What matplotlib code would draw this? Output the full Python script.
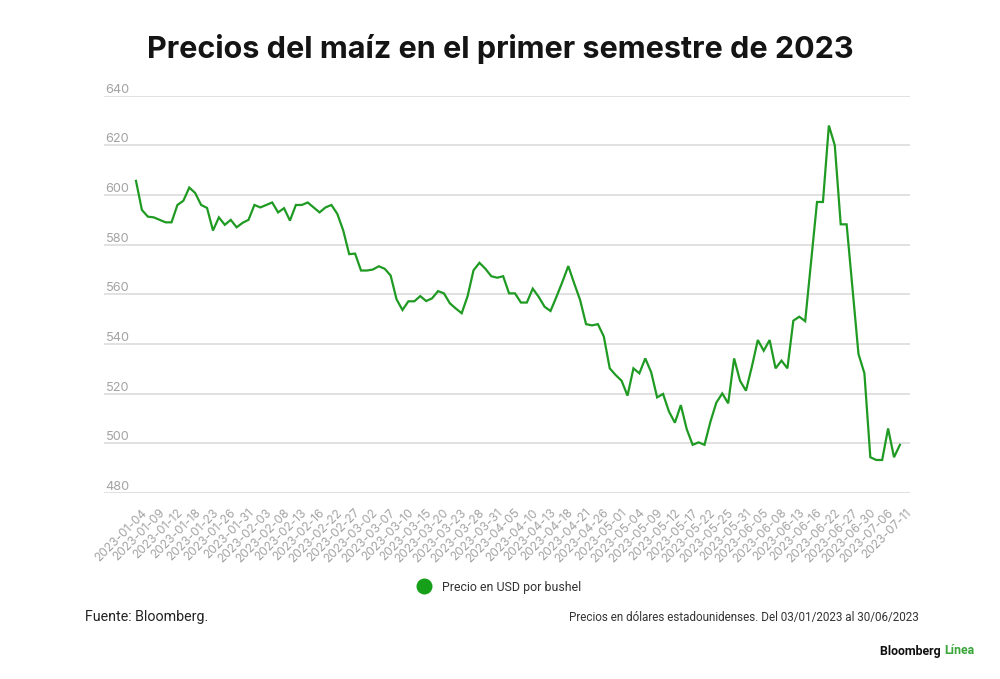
import numpy as np
import pandas as pd
import matplotlib
matplotlib.use("Agg")
import matplotlib.pyplot as plt
import matplotlib.transforms as mtransforms
from matplotlib.lines import Line2D

plt.rcParams['font.family'] = ['Inter', 'DejaVu Sans']

# ---- data ----
holidays = ['2023-01-16', '2023-02-20', '2023-05-29', '2023-06-19', '2023-07-04']
dates = pd.bdate_range('2023-01-04', '2023-07-11', freq='C', holidays=holidays)
date_labels = [d.strftime('%Y-%m-%d') for d in dates]

prices = [
    605.7, 594.0, 591.3, 591.0, 590.0, 589.0, 589.0, 596.0, 597.7, 603.0,
    600.8, 596.0, 594.8, 585.7, 591.0, 588.0, 590.0, 587.0, 588.8, 590.0,
    596.0, 595.0, 596.0, 597.0, 593.0, 594.7, 589.7, 596.0, 596.0, 597.0,
    595.0, 593.0, 595.0, 596.0, 592.4, 585.7, 576.2,
    576.4, 569.6, 569.6, 570.0, 571.3, 570.3, 567.6, 558.0, 553.7, 557.2,
    557.2, 559.3, 557.3, 558.4, 561.3, 560.4, 556.4, 554.3, 552.4, 559.3,
    569.7, 572.7, 570.3, 567.3, 566.7, 567.3, 560.4, 560.4, 556.7, 556.7,
    562.3, 559.0, 555.0, 553.3, 559.0, 565.0, 571.4, 564.4, 557.7, 548.0,
    547.5, 548.0, 543.0, 530.2, 527.5, 525.2, 519.2, 530.2, 528.2, 534.2,
    528.6, 518.5, 519.9, 512.8, 508.3, 515.4, 505.7,
    499.4, 500.4, 499.4, 508.7, 516.4, 520.1, 516.1, 534.2, 525.2, 521.2,
    530.9, 541.6, 537.3, 541.6, 530.2, 533.3, 530.2, 549.4, 551.0, 549.2,
    573.2, 597.2, 597.2, 628.0, 620.0, 588.2, 588.2, 562.0, 536.0, 528.2,
    494.4, 493.3, 493.3, 506.0, 494.4, 499.4,
]
y_ticks = [480, 500, 520, 540, 560, 580, 600, 620, 640]
series_name = 'Precio en USD por bushel'
title = 'Precios del maíz en el primer semestre de 2023'
source = 'Fuente: Bloomberg.'
note = 'Precios en dólares estadounidenses. Del 03/01/2023 al 30/06/2023'

# ---- figure ----
W, H = 1000, 679
fig = plt.figure(figsize=(W / 100, H / 100), dpi=100)
fig.patch.set_facecolor('white')

def fy(py):
    return 1 - py / H

ax = fig.add_axes([104 / W, fy(493), (910 - 104) / W, (493 - 95.7) / H])
x = np.arange(len(prices))
green = '#1f9a22'
ax.plot(x, prices, color=green, lw=1.6, solid_joinstyle='miter', zorder=3)

ax.set_ylim(480, 640)
ax.set_xlim(-5.4, len(prices) - 1 + 1.7)
ax.set_yticks(y_ticks)
ax.set_yticklabels([])
ax.tick_params(axis='y', length=0)
ax.grid(axis='y', color='#dcdcdc', lw=1.2)
ax.grid(axis='x', visible=False)
for s in ax.spines.values():
    s.set_visible(False)

trans = mtransforms.blended_transform_factory(ax.transAxes, ax.transData)
for v in y_ticks:
    ax.text(0.002, v, f'{v}', transform=trans, ha='left', va='bottom',
            fontsize=9.2, color='#a3a3a3')

ax.set_xticks(x[::3])
ax.set_xticklabels(date_labels[::3], rotation=45, ha='right', va='top',
                   rotation_mode='anchor', fontsize=8.6, color='#a3a3a3')
ax.tick_params(axis='x', length=0, pad=10)
offset = mtransforms.ScaledTranslation(5 / 100, 0, fig.dpi_scale_trans)
for lbl in ax.get_xticklabels():
    lbl.set_transform(lbl.get_transform() + offset)

# title
fig.text(0.5, fy(49), title, ha='center', va='center', fontsize=22,
         fontweight='bold', color='#141414')

# legend
handle = Line2D([], [], marker='o', linestyle='none', markersize=10.5,
                markerfacecolor='#16a01a', markeredgecolor='#16a01a')
fig.legend([handle], [series_name], loc='center',
           bbox_to_anchor=(496 / W, fy(587)), frameon=False,
           prop={'family': ['Roboto', 'DejaVu Sans'], 'size': 8.9},
           handletextpad=0.45, labelcolor='#333333')

# footer
foot = ['Roboto', 'DejaVu Sans']
fig.text(85 / W, fy(617), source, ha='left', va='center', fontsize=10.3,
         color='#222222', family=foot)
fig.text(919 / W, fy(617), note, ha='right', va='center', fontsize=8.4,
         color='#333333', family=foot)
fig.text(944 / W, fy(651), 'Bloomberg ', ha='right', va='center',
         fontsize=8.9, fontweight='bold', color='#111111', family=foot)
fig.text(944 / W, fy(651), 'Línea', ha='left', va='center', fontsize=8.9,
         fontweight='bold', color='#3aa63a', family=foot)

fig.savefig('out.png', dpi=100, facecolor='white')
